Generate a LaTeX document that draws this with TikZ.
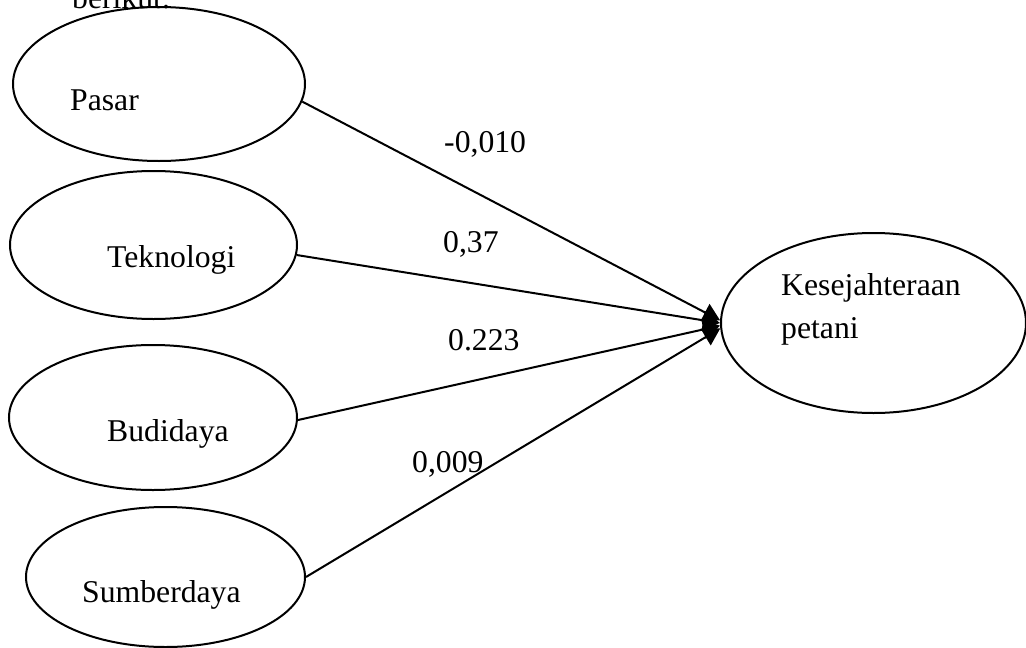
\documentclass[tikz,border=0pt]{standalone}
\usepackage{fontspec}
\setmainfont{Liberation Serif}
\usetikzlibrary{shapes.geometric,arrows.meta}
\begin{document}
\begin{tikzpicture}[x=1pt,y=-1pt,
  construct/.style={draw,ellipse,line width=2pt,inner sep=0pt},
  lbl/.style={inner sep=0pt,anchor=base west,font=\fontsize{31.7}{45}\selectfont},
  path/.style={line width=2pt,-{Triangle[length=17pt,width=19pt]}}]
\useasboundingbox (0,0) rectangle (1026,648);
\clip (0,0) rectangle (1026,648);

% preceding sentence, cut by the page edge
\node[lbl] (intro) at (72,8) {berikut.};

% latent constructs
\node[construct,minimum width=292pt,minimum height=154pt] (pasar) at (159,84) {};
\node[construct,minimum width=287pt,minimum height=148pt] (tek) at (153.5,245) {};
\node[construct,minimum width=288pt,minimum height=145pt] (bud) at (153,417.5) {};
\node[construct,minimum width=279pt,minimum height=140pt] (sum) at (165.5,577) {};
\node[construct,minimum width=305pt,minimum height=180pt] (kes) at (873.5,323) {};

% construct names
\node[lbl] (tpasar) at (70,110) {Pasar};
\node[lbl] (ttek) at (107,267) {Teknologi};
\node[lbl] (tbud) at (107,441) {Budidaya};
\node[lbl] (tsum) at (82,602) {Sumberdaya};
\node[lbl] (tkes1) at (781,295) {Kesejahteraan};
\node[lbl] (tkes2) at (781,338) {petani};

% path coefficients
\draw[path] (pasar.-7) -- (kes.179);
\draw[path] (tek.-4.8) -- (kes.180);
\draw[path] (bud.-1.8) -- (kes.181.5);
\draw[path] (sum.0.8) -- (kes.182.5);

\node[lbl] (c1) at (444,152) {-0,010};
\node[lbl] (c2) at (443,252) {0,37};
\node[lbl] (c3) at (448,350) {0.223};
\node[lbl] (c4) at (412,472) {0,009};
\end{tikzpicture}
\end{document}
